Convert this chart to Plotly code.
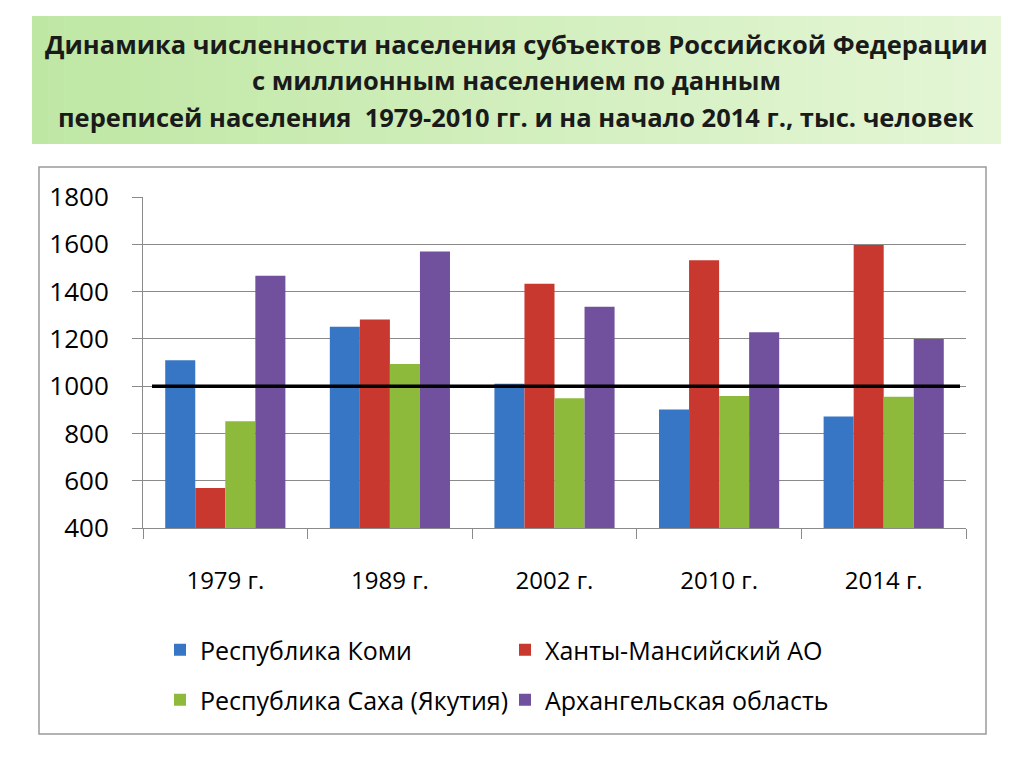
import plotly.graph_objects as go

categories = ["1979 г.", "1989 г.", "2002 г.", "2010 г.", "2014 г."]
komi = [1110, 1251, 1010, 901, 872]
khanty = [569, 1282, 1433, 1532, 1597]
sakha = [851, 1094, 949, 958, 955]
arkh = [1467, 1570, 1336, 1228, 1199]
series_names = ["Республика Коми", "Ханты-Мансийский АО",
                "Республика Саха (Якутия)", "Архангельская область"]
threshold = 1000
y_ticks = [400, 600, 800, 1000, 1200, 1400, 1600, 1800]
title_lines = [
    "Динамика численности населения субъектов Российской Федерации",
    "с миллионным населением по данным",
    "переписей населения \u00a01979-2010 гг. и на начало 2014 г., тыс. человек",
]

colors = ["#3676c4", "#c9382f", "#8dba3a", "#71509d"]
FONT = "Open Sans, Roboto, DejaVu Sans, sans-serif"
W, H = 1024, 768

def px_x(v):
    return v / W

def px_y(v):
    return 1 - v / H

fig = go.Figure()
all_vals = [komi, khanty, sakha, arkh]
legends = ["legend", "legend", "legend2", "legend2"]
for name, vals, col, lg in zip(series_names, all_vals, colors, legends):
    fig.add_trace(go.Bar(x=categories, y=vals, name=name, marker_color=col,
                         marker_line_width=0, legend=lg))

shapes = []
# title background gradient
left = (191, 231, 164)
right = (228, 246, 214)
x0, x1, y0, y1 = 32, 1001, 16, 144
n = 60
for i in range(n):
    t = i / (n - 1)
    c = tuple(round(left[k] + (right[k] - left[k]) * t) for k in range(3))
    xa = x0 + (x1 - x0) * i / n
    xb = x0 + (x1 - x0) * (i + 1) / n + 0.6
    shapes.append(dict(type="rect", xref="paper", yref="paper",
                       x0=px_x(xa), x1=px_x(min(xb, x1)), y0=px_y(y1), y1=px_y(y0),
                       fillcolor="rgb(%d,%d,%d)" % c, line_width=0, layer="below"))
# chart frame
shapes.append(dict(type="rect", xref="paper", yref="paper",
                   x0=px_x(39), x1=px_x(986), y0=px_y(734), y1=px_y(167),
                   line=dict(color="#9a9a9a", width=1.5), fillcolor="rgba(0,0,0,0)",
                   layer="below"))
# reference line
shapes.append(dict(type="line", xref="paper", yref="y",
                   x0=px_x(152), x1=px_x(960), y0=threshold, y1=threshold,
                   line=dict(color="black", width=3.5)))

annotations = []
for txt, yc in zip(title_lines, [44, 80, 117]):
    annotations.append(dict(text="<b>%s</b>" % txt, x=px_x(516), y=px_y(yc),
                            xref="paper", yref="paper", xanchor="center",
                            yanchor="middle", showarrow=False,
                            font=dict(family=FONT, size=25.5, color="#1a1a1a")))

fig.update_layout(
    width=W, height=H,
    margin=dict(l=0, r=0, t=0, b=0, autoexpand=False),
    paper_bgcolor="white", plot_bgcolor="white",
    barmode="group", bargap=0.27, bargroupgap=0,
    shapes=shapes, annotations=annotations,
    font=dict(family=FONT, color="black"),
    xaxis=dict(domain=[px_x(143), px_x(966)], type="category", automargin=False,
               showline=True, linecolor="#8a8a8a", linewidth=1,
               ticks="outside", tickson="boundaries", ticklen=10,
               tickcolor="#8a8a8a", showgrid=False,
               tickfont=dict(size=24, family=FONT), ticklabelstandoff=31),
    yaxis=dict(domain=[px_y(528), px_y(197)], range=[400, 1800], automargin=False,
               tickvals=y_ticks, showline=True, linecolor="#8a8a8a", linewidth=1,
               ticks="outside", ticklen=10, tickcolor="#8a8a8a",
               showgrid=True, gridcolor="#8a8a8a", gridwidth=1,
               zeroline=False, tickfont=dict(size=26, family=FONT),
               ticklabelstandoff=18),
    legend=dict(orientation="h", x=px_x(160), y=px_y(650), xanchor="left",
                yanchor="middle", entrywidth=300, entrywidthmode="pixels",
                font=dict(size=25, family=FONT), bgcolor="rgba(0,0,0,0)",
                traceorder="normal"),
    legend2=dict(orientation="h", x=px_x(160), y=px_y(700), xanchor="left",
                 yanchor="middle", entrywidth=300, entrywidthmode="pixels",
                 font=dict(size=25, family=FONT), bgcolor="rgba(0,0,0,0)",
                 traceorder="normal"),
)

fig.write_html("out.html")
